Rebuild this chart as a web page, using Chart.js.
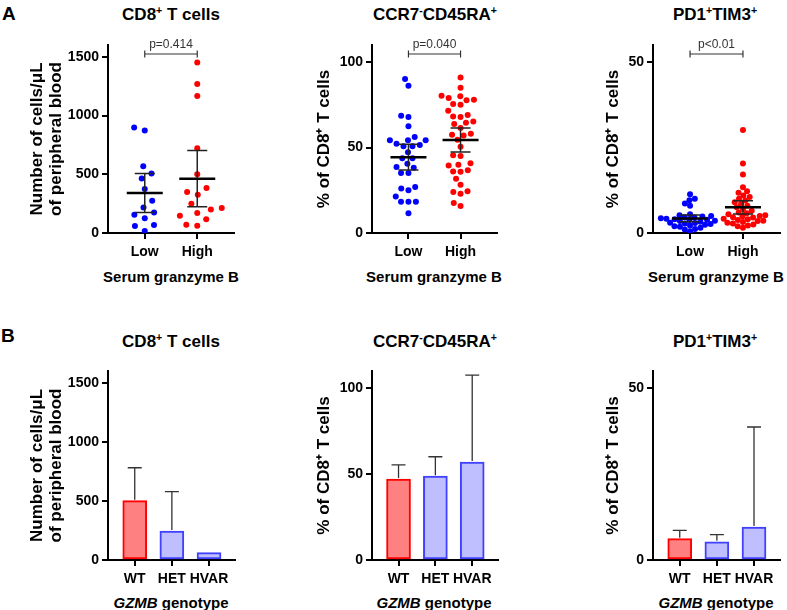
<!DOCTYPE html>
<html>
<head>
<meta charset="utf-8">
<script src="https://cdn.jsdelivr.net/npm/chart.js@4.4.1/dist/chart.umd.min.js"></script>
<style>
  body { margin: 0; background: #fff; width: 787px; height: 610px; position: relative; overflow: hidden;
         font-family: "Liberation Sans", Arial, sans-serif; color: #000; }
  canvas { position: absolute; }
  .lbl { position: absolute; font-weight: bold; white-space: nowrap; transform: translate(-50%, -50%); }
  .ttl { font-size: 17px; }
  .cap { font-size: 15px; }
  .letter { position: absolute; font-size: 19px; font-weight: bold; line-height: 1; }
  sup { font-size: 62%; line-height: 0; vertical-align: 0.55em; }
</style>
</head>
<body>
<div class="letter" style="left:2px;top:4px">A</div>
<div class="letter" style="left:1px;top:326px">B</div>

<div class="lbl ttl" style="left:171px;top:15px">CD8<sup>+</sup> T cells</div>
<div class="lbl ttl" style="left:435px;top:15px">CCR7<sup>-</sup>CD45RA<sup>+</sup></div>
<div class="lbl ttl" style="left:715px;top:15px">PD1<sup>+</sup>TIM3<sup>+</sup></div>
<div class="lbl ttl" style="left:171px;top:342px">CD8<sup>+</sup> T cells</div>
<div class="lbl ttl" style="left:435px;top:342px">CCR7<sup>-</sup>CD45RA<sup>+</sup></div>
<div class="lbl ttl" style="left:715px;top:342px">PD1<sup>+</sup>TIM3<sup>+</sup></div>

<div class="lbl cap" style="left:171px;top:276px">Serum granzyme B</div>
<div class="lbl cap" style="left:434px;top:276px">Serum granzyme B</div>
<div class="lbl cap" style="left:716px;top:276px">Serum granzyme B</div>
<div class="lbl cap" style="left:171px;top:602px"><i>GZMB</i> genotype</div>
<div class="lbl cap" style="left:434px;top:602px"><i>GZMB</i> genotype</div>
<div class="lbl cap" style="left:716px;top:602px"><i>GZMB</i> genotype</div>

<canvas id="a1" width="262" height="263" style="left:0;top:0"></canvas>
<canvas id="a2" width="262" height="263" style="left:262px;top:0"></canvas>
<canvas id="a3" width="263" height="263" style="left:524px;top:0"></canvas>
<canvas id="b1" width="262" height="290" style="left:0;top:300px"></canvas>
<canvas id="b2" width="262" height="290" style="left:262px;top:300px"></canvas>
<canvas id="b3" width="263" height="290" style="left:524px;top:300px"></canvas>

<script>
const groupLabels = ["Low", "High"];
const genotypes = ["WT", "HET", "HVAR"];

// A: values per patient, split by serum granzyme B
const cd8Low = [872, 897, 569, 507, 464, 374, 275, 218, 175, 156, 125, 68, 59, 17];
const cd8High = [1452, 1268, 1166, 722, 501, 348, 382, 325, 249, 212, 201, 170, 147, 116, 71, 62];
const temraLow = [90.1, 86.2, 67.8, 68.6, 62.4, 56.1, 52.2, 54.2, 54.2, 54.2, 51.5, 50.7, 50.7, 47.2, 43.7,
  43.7, 40.5, 38.2, 38.6, 35.1, 35.1, 26.9, 25.0, 26.1, 21.4, 18.3, 18.3, 18.3, 11.5];
const temraHigh = [91.0, 85.0, 80.3, 80.0, 79.0, 78.0, 77.6, 75.5, 75.0, 71.5, 69.0, 68.2, 67.8, 65.3, 64.5,
  63.8, 61.5, 58.0, 57.5, 57.0, 54.5, 50.5, 45.5, 45.0, 40.8, 40.0, 39.5, 36.7, 36.0, 35.8, 31.8, 28.3,
  24.5, 24.0, 23.0, 17.6, 15.8];
const pd1Low = [11.3, 10.0, 9.6, 8.6, 8.0, 5.5, 5.2, 5.0, 4.8, 4.6, 4.5, 4.3, 4.2, 4.0, 3.9, 3.8, 3.6, 3.5,
  3.3, 3.0, 2.9, 2.8, 2.6, 2.4, 2.2, 2.0, 1.8, 1.5, 1.2, 1.0, 0.5];
const pd1High = [30.1, 20.3, 17.1, 13.4, 12.2, 11.8, 11.0, 10.5, 10.0, 9.5, 9.0, 8.5, 8.0, 7.5, 7.0, 6.5,
  6.0, 5.8, 5.5, 5.2, 5.0, 4.8, 4.6, 4.5, 4.2, 4.0, 3.8, 3.6, 3.5, 3.2, 3.0, 2.8, 2.5, 2.2, 2.0, 1.5];
const pLabels = ["p=0.414", "p=0.040", "p<0.01"];

// B: mean and upper error by GZMB genotype
const cd8GenoMean = [502, 245, 62];
const cd8GenoErr = [279, 333, null];
const temraGenoMean = [47.1, 48.8, 57.0];
const temraGenoErr = [8.3, 11.3, 50.6];
const pd1GenoMean = [6.2, 5.3, 9.6];
const pd1GenoErr = [2.4, 2.1, 29.1];

// axes
const cd8Ticks = [0, 500, 1000, 1500];
const temraTicks = [0, 50, 100];
const pd1Ticks = [0, 50];
const cd8Max = 1600, temraMax = 110, pd1Max = 55;

const FONT = "'Liberation Sans', Arial, sans-serif";
Chart.defaults.font.family = FONT;
Chart.defaults.color = '#000';

const PLOT_H = 188, PLOT_W = 126, X_MIN = -0.7, X_MAX = 1.7;
const dotColours = ['#0000ff', '#ff0000'];

function meanCI(v) {
  const n = v.length;
  const m = v.reduce((a, b) => a + b, 0) / n;
  const sd = Math.sqrt(v.reduce((a, b) => a + (b - m) ** 2, 0) / (n - 1));
  const df = n - 1, z = 1.959964;
  const t = z + (z ** 3 + z) / (4 * df) + (5 * z ** 5 + 16 * z ** 3 + 3 * z) / (96 * df * df);
  const h = t * sd / Math.sqrt(n);
  return { m: m, lo: m - h, hi: m + h };
}

// simple beeswarm, offsets in px
function swarm(values, pxPerY, gap) {
  const order = values.map((v, i) => i).sort((a, b) => values[a] - values[b]);
  const placed = [];
  const offs = new Array(values.length).fill(0);
  order.forEach(i => {
    const y = values[i] * pxPerY;
    const near = placed.filter(p => Math.abs(p.y - y) < gap);
    const cands = [0];
    near.forEach(p => {
      const w = Math.sqrt(gap * gap - (p.y - y) ** 2);
      cands.push(p.x - w, p.x + w);
    });
    cands.sort((a, b) => Math.abs(a) - Math.abs(b));
    const x = cands.find(c => near.every(p => (p.x - c) ** 2 + (p.y - y) ** 2 >= gap * gap - 0.01));
    placed.push({ x: x, y: y });
    offs[i] = x;
  });
  return offs;
}

function dotSets(low, high, max, gap) {
  const py = PLOT_H / max, px = PLOT_W / (X_MAX - X_MIN);
  return [low, high].map((vals, g) => {
    const off = swarm(vals, py, gap);
    return {
      data: vals.map((v, i) => ({ x: g + off[i] / px, y: v })),
      backgroundColor: dotColours[g],
      pointBackgroundColor: dotColours[g],
      pointRadius: 3,
      pointBorderWidth: 0
    };
  });
}

function statsPlugin(groups) {
  return {
    id: 'stats',
    afterDatasetsDraw(chart) {
      const { ctx, scales: { x, y } } = chart;
      ctx.save();
      groups.forEach((vals, g) => {
        const s = meanCI(vals);
        const cx = x.getPixelForValue(g);
        const lo = y.getPixelForValue(s.lo), hi = y.getPixelForValue(s.hi), my = y.getPixelForValue(s.m);
        ctx.strokeStyle = '#222';
        ctx.lineWidth = 1.5;
        ctx.beginPath();
        ctx.moveTo(cx, lo); ctx.lineTo(cx, hi);
        ctx.moveTo(cx - 10, lo); ctx.lineTo(cx + 10, lo);
        ctx.moveTo(cx - 10, hi); ctx.lineTo(cx + 10, hi);
        ctx.stroke();
        ctx.strokeStyle = '#000';
        ctx.lineWidth = 2.5;
        ctx.beginPath();
        ctx.moveTo(cx - 18, my); ctx.lineTo(cx + 18, my);
        ctx.stroke();
      });
      ctx.restore();
    }
  };
}

function bracketPlugin(text) {
  return {
    id: 'bracket',
    afterDraw(chart) {
      const { ctx, scales: { x, y } } = chart;
      const yy = y.getPixelForValue(y.max * 0.952);
      const x0 = x.getPixelForValue(0), x1 = x.getPixelForValue(1);
      ctx.save();
      ctx.strokeStyle = '#333';
      ctx.lineWidth = 1.2;
      ctx.beginPath();
      ctx.moveTo(x0, yy); ctx.lineTo(x1, yy);
      ctx.moveTo(x0, yy - 3.5); ctx.lineTo(x0, yy + 3.5);
      ctx.moveTo(x1, yy - 3.5); ctx.lineTo(x1, yy + 3.5);
      ctx.stroke();
      ctx.fillStyle = '#333';
      ctx.font = '12px ' + FONT;
      ctx.textAlign = 'center';
      ctx.textBaseline = 'bottom';
      ctx.fillText(text, (x0 + x1) / 2, yy - 3);
      ctx.restore();
    }
  };
}

function errorPlugin(err) {
  return {
    id: 'errorBars',
    afterDatasetsDraw(chart) {
      const { ctx } = chart;
      const y = chart.scales.y;
      const pts = chart.data.datasets[0].data;
      ctx.save();
      ctx.strokeStyle = '#333';
      ctx.lineWidth = 1.3;
      chart.getDatasetMeta(0).data.forEach((bar, i) => {
        if (err[i] == null) return;
        const top = y.getPixelForValue(pts[i].y + err[i]);
        ctx.beginPath();
        ctx.moveTo(bar.x, bar.y - 1); ctx.lineTo(bar.x, top);
        ctx.moveTo(bar.x - 7, top); ctx.lineTo(bar.x + 7, top);
        ctx.stroke();
      });
      ctx.restore();
    }
  };
}

const axisGrid = { drawOnChartArea: false, drawTicks: true, tickLength: 6, color: '#000', lineWidth: 2, offset: false };
const axisBorder = { color: '#000', width: 2 };
const tickFont = { size: 14, weight: 'bold' };

function yAxis(max, tickVals, title, boxWidth) {
  return {
    min: 0, max: max,
    afterBuildTicks: s => { s.ticks = tickVals.map(v => ({ value: v })); },
    afterFit: s => { s.width = boxWidth; },
    ticks: { font: tickFont, color: '#000', padding: 3, callback: v => String(v) },
    grid: axisGrid,
    border: axisBorder,
    title: { display: true, text: title, color: '#000', padding: 0,
             font: { size: 17, weight: 'bold', lineHeight: 1.12 } }
  };
}

function xAxis(labels, min, max) {
  return {
    type: 'linear', min: min, max: max, offset: false,
    afterBuildTicks: s => { s.ticks = labels.map((_, i) => ({ value: i })); },
    afterFit: s => { s.height = 30; },
    ticks: { font: tickFont, color: '#000', padding: 5, maxRotation: 0, autoSkip: false, callback: v => labels[v] },
    grid: axisGrid,
    border: axisBorder
  };
}

function scatterChart(id, low, high, max, tickVals, yTitle, pad, boxWidth, gap, pText) {
  return new Chart(document.getElementById(id), {
    type: 'scatter',
    data: { datasets: dotSets(low, high, max, gap) },
    options: {
      responsive: false, animation: false, events: [],
      layout: { padding: { top: 45, bottom: 0, left: pad.left, right: pad.right } },
      plugins: { legend: { display: false }, tooltip: { enabled: false } },
      scales: {
        x: xAxis(groupLabels, X_MIN, X_MAX),
        y: yAxis(max, tickVals, yTitle, boxWidth)
      }
    },
    plugins: [statsPlugin([low, high]), bracketPlugin(pText)]
  });
}

function barChart(id, means, err, max, tickVals, yTitle, pad, boxWidth) {
  return new Chart(document.getElementById(id), {
    type: 'bar',
    data: {
      datasets: [{
        data: means.map((m, i) => ({ x: i, y: m })),
        backgroundColor: ['#ff8080', '#bfbfff', '#bfbfff'],
        borderColor: ['#ff0000', '#4040ff', '#4040ff'],
        borderWidth: 2,
        borderSkipped: false,
        barThickness: 24
      }]
    },
    options: {
      responsive: false, animation: false, events: [],
      layout: { padding: { top: 71, bottom: 0, left: pad.left, right: pad.right } },
      plugins: { legend: { display: false }, tooltip: { enabled: false } },
      scales: {
        x: xAxis(genotypes, -0.72, 2.7),
        y: yAxis(max, tickVals, yTitle, boxWidth)
      }
    },
    plugins: [errorPlugin(err)]
  });
}

const cellsTitle = ['Number of cells/\u03bcL', 'of peripheral blood'];
const pctTitle = '% of CD8\u207a T cells';

scatterChart('a1', cd8Low, cd8High, cd8Max, cd8Ticks, cellsTitle, { left: 28, right: 28 }, 80, 11, pLabels[0]);
scatterChart('a2', temraLow, temraHigh, temraMax, temraTicks, pctTitle, { left: 53, right: 27 }, 57, 7.5, pLabels[1]);
scatterChart('a3', pd1Low, pd1High, pd1Max, pd1Ticks, pctTitle, { left: 80, right: 7 }, 49, 5.5, pLabels[2]);

barChart('b1', cd8GenoMean, cd8GenoErr, cd8Max, cd8Ticks, cellsTitle, { left: 28, right: 27 }, 80);
barChart('b2', temraGenoMean, temraGenoErr, temraMax, temraTicks, pctTitle, { left: 53, right: 26 }, 57);
barChart('b3', pd1GenoMean, pd1GenoErr, pd1Max, pd1Ticks, pctTitle, { left: 80, right: 7 }, 49);
</script>
</body>
</html>
